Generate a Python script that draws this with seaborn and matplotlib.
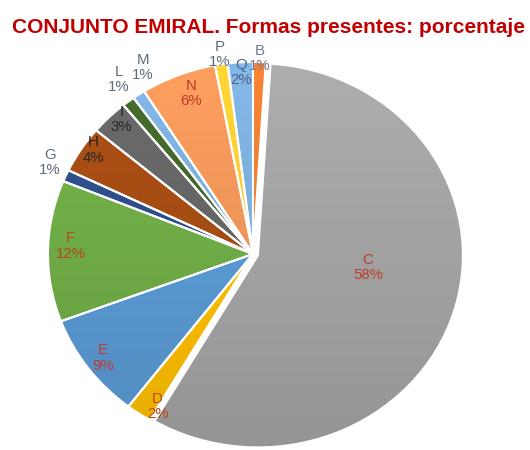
import numpy as np
import matplotlib
matplotlib.use("Agg")
import matplotlib.pyplot as plt
import matplotlib.colors as mcolors
from matplotlib.patches import Wedge
import seaborn as sns

sns.set_theme(style="white")
plt.rcParams["font.family"] = ["Liberation Sans", "DejaVu Sans"]

# Forms present in the Emiral set (percentage of total)
categories = ["B", "C", "D", "E", "F", "G", "H", "I", "L", "M", "N", "P", "Q"]
percentages = [1, 58, 2, 9, 12, 1, 4, 3, 1, 1, 6, 1, 2]

slice_colors = ["#ED7D31", "#A5A5A5", "#FFC000", "#5B9BD5", "#70AD47", "#2F4F8C",
                "#A64D14", "#666666", "#43682B", "#7CAFDD", "#F1975A", "#FFCD33",
                "#7CAFDD"]
label_colors = ["#6B7A8F", "#C0392B", "#B8461B", "#C0392B", "#B8461B", "#5F6B7A",
                "#262626", "#262626", "#5F6B7A", "#5F6B7A", "#C0392B", "#5F6B7A",
                "#4E6484"]
# label placement: distance from centre and angular nudge (degrees)
label_radius = [1.02, 0.54, 0.92, 0.91, 0.89, 1.10, 0.95, 0.95, 1.12, 1.11, 0.89, 1.05, 0.945]
label_shift = [0, 10, 3.5, 0, -1.8, -1.7, -1.8, -2, -1.7, -4.9, -1.7, 0, 0]
explode = [0.025 if c == "C" else 0.0 for c in categories]

fig = plt.figure(figsize=(5.3, 4.5), dpi=100)
ax = fig.add_axes([0, 0, 1, 1])

wedges, _ = ax.pie(percentages, colors=slice_colors, startangle=90, counterclock=False,
                   explode=explode,
                   wedgeprops=dict(edgecolor="white", linewidth=1.5))

xlim = (-253 / 205, (530 - 253) / 205)
ylim = (-196 / 192, (450 - 196) / 192)

# soft top-to-bottom shading inside each slice
ramp = np.linspace(1.06, 0.90, 256)[:, None]
for w, col in zip(wedges, slice_colors):
    rgb = np.array(mcolors.to_rgb(col))
    img = np.clip(ramp[..., None] * rgb[None, None, :], 0, 1)
    img = np.repeat(img, 2, axis=1)
    im = ax.imshow(img, extent=(-1.1, 1.1, -1.05, 1.05), origin="upper",
                   interpolation="bilinear", zorder=1.5, aspect="auto")
    im.set_clip_path(w)
    w.set_facecolor("none")
    w.set_zorder(2)

for w, cat, val, col, r, sh in zip(wedges, categories, percentages, label_colors,
                                   label_radius, label_shift):
    mid = np.deg2rad((w.theta1 + w.theta2) / 2 + sh)
    cx, cy = w.center
    x = cx + r * np.cos(mid)
    y = cy + r * np.sin(mid)
    ax.text(x, y, f"{cat}\n{val}%", ha="center", va="center", fontsize=10.8,
            color=col, linespacing=1.1, zorder=3)

# slightly wider than tall, as drawn in the sheet
ax.set_aspect("auto")
ax.set_xlim(*xlim)
ax.set_ylim(*ylim)
ax.axis("off")

fig.text(0.507, 0.938, "CONJUNTO EMIRAL. Formas presentes: porcentaje",
         ha="center", va="center", fontsize=15, fontweight="bold", color="#C00000")

fig.savefig("out.png", dpi=100)
